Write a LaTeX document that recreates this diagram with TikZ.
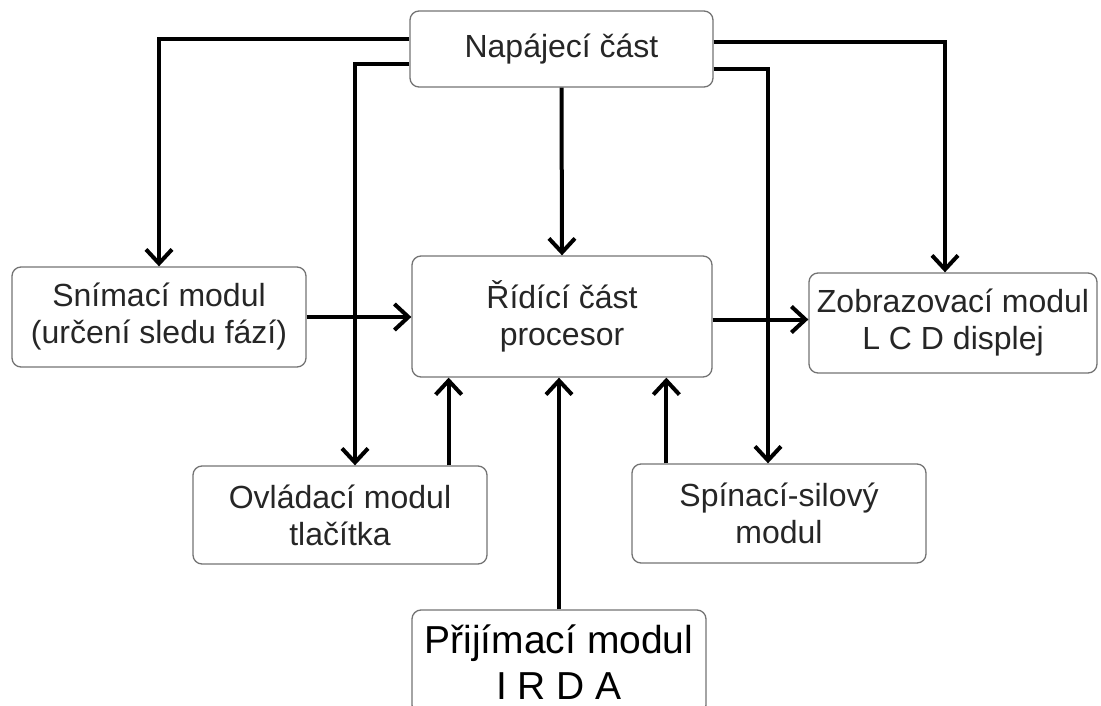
\documentclass[tikz,border=0pt]{standalone}
\usepackage{fontspec}
\setmainfont{Liberation Sans}
\usetikzlibrary{arrows.meta}

\begin{document}
\begin{tikzpicture}[x=1pt, y=-1pt,
    modul/.style={draw=black!55, line width=1.3pt, rounded corners=9pt,
      align=center, text=black!85, inner sep=0pt,
      font=\fontsize{32}{37}\selectfont},
    vodic/.style={line width=4pt, -{Straight Barb[length=14pt,width=26pt]}},
  ]
  \useasboundingbox (0,0) rectangle (1101,706);
  \clip (0,0) rectangle (1101,706);

  % bloky
  \node[modul, minimum width=303pt, minimum height=76pt] (nap) at (561.5,49) {Napájecí část};
  \node[modul, minimum width=300pt, minimum height=121pt] (rid) at (562,316.5) {Řídící část\\procesor};
  \node[modul, minimum width=294pt, minimum height=100pt] (snim) at (159,317) {Snímací modul\\(určení sledu fází)};
  \node[modul, minimum width=288pt, minimum height=100pt] (zob) at (953,323) {Zobrazovací modul\\L C D displej};
  \node[modul, minimum width=294pt, minimum height=98pt] (ovl) at (340,515) {Ovládací modul\\tlačítka};
  \node[modul, minimum width=294pt, minimum height=99pt] (spin) at (779,513.5) {Spínací-silový\\modul};
  \node[modul, minimum width=294pt, minimum height=104pt,
    font=\fontsize{39}{46}\selectfont, text=black] (prij) at (559,662) {Přijímací modul\\I R D A};

  % napajeni
  \draw[vodic] ([yshift=10pt]nap.west) -| (snim.north);
  \draw[vodic] ([yshift=-15pt]nap.west) -| ([xshift=15pt]ovl.north);
  \draw[vodic] (nap.south) -- (rid.north);
  \draw[vodic] ([yshift=7pt]nap.east) -| ([xshift=-8pt]zob.north);
  \draw[vodic] ([yshift=-20pt]nap.east) -| ([xshift=-11pt]spin.north);

  % signaly
  \draw[vodic] (snim.east) -- (snim.east -| rid.west);
  \draw[vodic] ([yshift=-3pt]rid.east) -- ([yshift=-3pt]rid.east -| zob.west);
  \draw[vodic] ([xshift=-39pt]ovl.north east) -- ([xshift=-39pt]ovl.north east |- rid.south);
  \draw[vodic] (prij.north) -- (prij.north |- rid.south);
  \draw[vodic] ([xshift=35pt]spin.north west) -- ([xshift=35pt]spin.north west |- rid.south);
\end{tikzpicture}
\end{document}
